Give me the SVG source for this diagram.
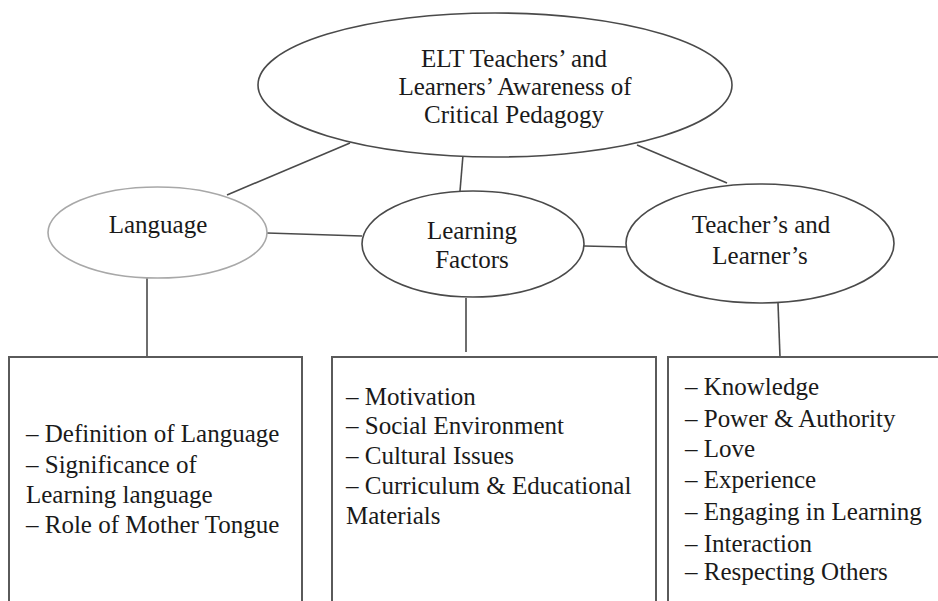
<svg xmlns="http://www.w3.org/2000/svg" width="938" height="601" viewBox="0 0 938 601">
<style>
text{font-family:"Liberation Serif","Times New Roman",serif;font-size:25px;fill:#1a1a1a}
.c{text-anchor:middle}
.node{fill:#fff;stroke:#4a4a4a;stroke-width:1.6}
.light{stroke:#a8a8a8}
.box{fill:#fff;stroke:#5a5a5a;stroke-width:2}
.conn line{stroke:#4a4a4a;stroke-width:1.6}
</style>
<rect width="938" height="601" fill="#fff"/>
<g id="connectors" class="conn">
<line x1="350" y1="143" x2="227" y2="195"/>
<line x1="463" y1="155" x2="460" y2="191"/>
<line x1="637" y1="145" x2="727" y2="183"/>
<line x1="267" y1="233" x2="362" y2="236"/>
<line x1="584" y1="246" x2="627" y2="247"/>
<line x1="147" y1="278" x2="147" y2="357"/>
<line x1="466" y1="298" x2="466" y2="352"/>
<line x1="778" y1="303" x2="780" y2="357"/>
</g>
<g id="root">
<ellipse class="node" cx="495" cy="85" rx="237" ry="72"/>
<text class="c" x="514" y="67">ELT Teachers’ and</text>
<text class="c" x="515" y="95">Learners’ Awareness of</text>
<text class="c" x="514" y="123">Critical Pedagogy</text>
</g>
<g id="language">
<ellipse class="node light" cx="157.5" cy="232.5" rx="109.5" ry="45.5"/>
<text class="c" x="158" y="233">Language</text>
</g>
<g id="learning-factors">
<ellipse class="node" cx="473" cy="244" rx="111" ry="53"/>
<text class="c" x="472" y="239">Learning</text>
<text class="c" x="472" y="268">Factors</text>
</g>
<g id="teachers-learners">
<ellipse class="node" cx="760" cy="243.5" rx="134" ry="59.5"/>
<text class="c" x="761" y="233">Teacher’s and</text>
<text class="c" x="760" y="264">Learner’s</text>
</g>
<g id="language-box">
<rect class="box" x="9" y="357" width="293" height="260"/>
<text x="26" y="442">– Definition of Language</text>
<text x="26" y="473">– Significance of</text>
<text x="26" y="503">Learning language</text>
<text x="26" y="533">– Role of Mother Tongue</text>
</g>
<g id="learning-factors-box">
<rect class="box" x="332" y="357" width="324" height="260"/>
<text x="346" y="405">– Motivation</text>
<text x="346" y="434">– Social Environment</text>
<text x="346" y="464">– Cultural Issues</text>
<text x="346" y="494">– Curriculum &amp; Educational</text>
<text x="346" y="524">Materials</text>
</g>
<g id="teachers-learners-box">
<rect class="box" x="668" y="357" width="290" height="260"/>
<text x="685" y="395">– Knowledge</text>
<text x="685" y="427">– Power &amp; Authority</text>
<text x="685" y="457">– Love</text>
<text x="685" y="488">– Experience</text>
<text x="685" y="520">– Engaging in Learning</text>
<text x="685" y="552">– Interaction</text>
<text x="685" y="580">– Respecting Others</text>
</g>
</svg>
